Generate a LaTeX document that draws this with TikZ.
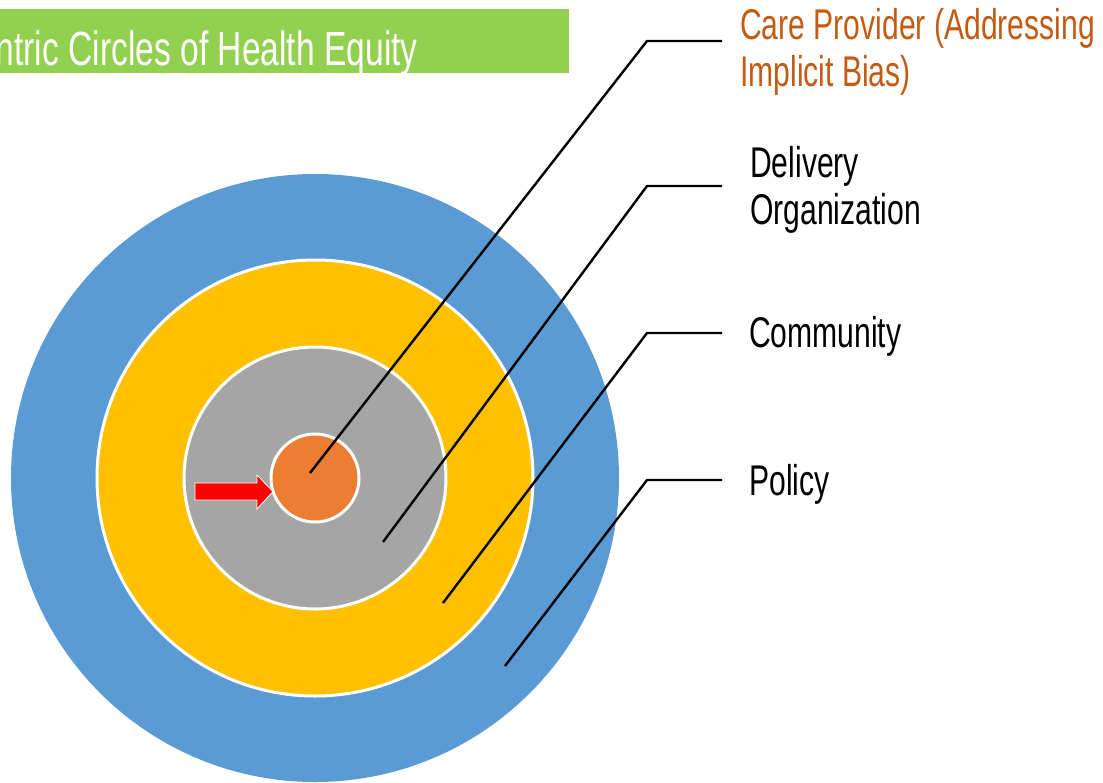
\documentclass[tikz,border=0pt]{standalone}
\usepackage{fontspec}
\setmainfont[FakeStretch=0.70]{Liberation Sans}
\begin{document}
\begin{tikzpicture}[x=1pt,y=-1pt,
  ring/.style={circle,draw=white,line width=3pt,inner sep=0pt,minimum size=#1},
  leader/.style={draw=black,line width=2.4pt},
  lab/.style={anchor=base west,inner sep=0pt,font=\fontsize{43}{48}\selectfont,text=black},
  ttl/.style={anchor=base east,inner sep=0pt,font=\fontsize{48}{52}\selectfont,text=white}]
\definecolor{cblue}{HTML}{5B9BD5}
\definecolor{cyellow}{HTML}{FFC000}
\definecolor{cgray}{HTML}{A5A5A5}
\definecolor{corange}{HTML}{ED7D31}
\definecolor{cgreen}{HTML}{92D050}
\definecolor{ctext}{HTML}{C55A11}
\useasboundingbox (0,0) rectangle (1103,782);
% title bar
\begin{scope}
  \clip (0,9) rectangle (569,73);
  \fill[cgreen] (0,9) rectangle (569,73);
  \node[ttl] (title) at (418,65) {Concentric Circles of Health Equity};
\end{scope}
% circles
\node[ring=608pt,fill=cblue,draw=none] (policy) at (315,478) {};
\node[ring=436pt,fill=cyellow] (comm) at (315,478) {};
\node[ring=262pt,fill=cgray] (deliv) at (315,478) {};
\node[ring=88pt,fill=corange] (core) at (315,478) {};
% red arrow
\path[fill=red,draw=white,line width=0.8pt] (195,483) -- (257,483) -- (257,475) -- (273,491.5) -- (257,509) -- (257,500) -- (195,500) -- cycle;
% labels
\node[lab,text=ctext] (l1) at (740,39) {Care Provider (Addressing};
\node[lab,text=ctext] (l1b) at (740,86) {Implicit Bias)};
\node[lab] (l2) at (750,177) {Delivery};
\node[lab] (l2b) at (750,224) {Organization};
\node[lab] (l3) at (749,347) {Community};
\node[lab] (l4) at (749,495) {Policy};
% leader coordinates
\coordinate (p1) at (310,473); \coordinate (k1) at (647,41); \coordinate (e1) at (722,41);
\coordinate (p2) at (383,542); \coordinate (k2) at (647,186); \coordinate (e2) at (722,186);
\coordinate (p3) at (443,603); \coordinate (k3) at (647,333); \coordinate (e3) at (722,333);
\coordinate (p4) at (505,666); \coordinate (k4) at (647,480); \coordinate (e4) at (722,480);
\draw[leader] (p1) -- (k1) -- (e1);
\draw[leader] (p2) -- (k2) -- (e2);
\draw[leader] (p3) -- (k3) -- (e3);
\draw[leader] (p4) -- (k4) -- (e4);
\end{tikzpicture}
\end{document}
